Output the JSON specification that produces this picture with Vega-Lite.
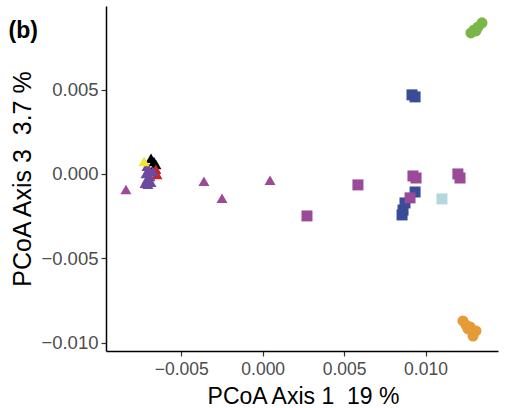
{
  "$schema": "https://vega.github.io/schema/vega-lite/v6.json",
  "width": 392,
  "height": 345,
  "autosize": {"type": "none"},
  "padding": {"left": 106, "top": 6, "right": 17, "bottom": 57},
  "background": "white",
  "config": {
    "view": {"stroke": null},
    "axis": {"grid": false, "domainColor": "black", "domainWidth": 1.5, "tickColor": "#333333", "tickWidth": 1.2, "tickSize": 5, "labelFont": "Liberation Sans", "labelColor": "#4d4d4d", "titleFont": "Liberation Sans", "titleFontWeight": "normal", "titleColor": "black"}
  },
  "resolve": {"axis": {"x": "independent"}},
  "layer": [
    {
      "data": {"values": [
        {"x": 0.01279, "y": 0.00836, "g": "A"},
        {"x": 0.01298, "y": 0.00854, "g": "A"},
        {"x": 0.01323, "y": 0.00872, "g": "A"},
        {"x": 0.01347, "y": 0.00896, "g": "A"},
        {"x": 0.01310, "y": 0.00848, "g": "A"},
        {"x": 0.01230, "y": -0.00872, "g": "B"},
        {"x": 0.01249, "y": -0.00896, "g": "B"},
        {"x": 0.01274, "y": -0.00907, "g": "B"},
        {"x": 0.01310, "y": -0.00931, "g": "B"},
        {"x": 0.01292, "y": -0.00961, "g": "B"},
        {"x": 0.01261, "y": -0.00919, "g": "B"},
        {"x": 0.00917, "y": 0.00469, "g": "C"},
        {"x": 0.00936, "y": 0.00457, "g": "C"},
        {"x": 0.00936, "y": -0.00107, "g": "C"},
        {"x": 0.00874, "y": -0.00172, "g": "C"},
        {"x": 0.00862, "y": -0.00214, "g": "C"},
        {"x": 0.00856, "y": -0.00243, "g": "C"},
        {"x": 0.00923, "y": -0.00012, "g": "D"},
        {"x": 0.00942, "y": -0.00024, "g": "D"},
        {"x": 0.01199, "y": 0.00000, "g": "D"},
        {"x": 0.01212, "y": -0.00024, "g": "D"},
        {"x": 0.00905, "y": -0.00142, "g": "D"},
        {"x": 0.00585, "y": -0.00065, "g": "D"},
        {"x": 0.00272, "y": -0.00249, "g": "D"},
        {"x": 0.01101, "y": -0.00148, "g": "E"},
        {"x": -0.00840, "y": -0.00101, "g": "F"},
        {"x": -0.00361, "y": -0.00053, "g": "F"},
        {"x": -0.00250, "y": -0.00154, "g": "F"},
        {"x": 0.00045, "y": -0.00047, "g": "F"},
        {"x": -0.00686, "y": 0.00083, "g": "I"},
        {"x": -0.00668, "y": 0.00065, "g": "I"},
        {"x": -0.00656, "y": 0.00047, "g": "I"},
        {"x": -0.00656, "y": 0.00018, "g": "J"},
        {"x": -0.00649, "y": -0.00012, "g": "J"},
        {"x": -0.00711, "y": 0.00036, "g": "G"},
        {"x": -0.00698, "y": 0.00012, "g": "G"},
        {"x": -0.00717, "y": -0.00006, "g": "G"},
        {"x": -0.00692, "y": -0.00024, "g": "G"},
        {"x": -0.00711, "y": -0.00042, "g": "G"},
        {"x": -0.00686, "y": -0.00059, "g": "G"},
        {"x": -0.00723, "y": -0.00065, "g": "G"},
        {"x": -0.00674, "y": 0.00006, "g": "G"},
        {"x": -0.00705, "y": -0.00071, "g": "G"},
        {"x": -0.00729, "y": 0.00065, "g": "H"}
      ]},
      "mark": {"type": "point", "filled": true, "opacity": 1},
      "encoding": {
        "x": {"field": "x", "type": "quantitative", "scale": {"domain": [-0.009625, 0.014453], "nice": false, "zero": false},
          "axis": {"orient": "bottom", "values": [-0.005, 0, 0.005, 0.01], "format": ".3f", "labelFontSize": 17.5, "labelPadding": 4, "title": "PCoA Axis 1\u00a0\u00a019 %", "titleFontSize": 23, "titleX": 197, "titleY": 52, "titleBaseline": "alphabetic", "titleAlign": "center"}},
        "y": {"field": "y", "type": "quantitative", "scale": {"domain": [-0.0105, 0.00996], "nice": false, "zero": false},
          "axis": {"values": [-0.01, -0.005, 0, 0.005], "format": ".3f", "labelFontSize": 18.5, "labelPadding": 3, "title": "PCoA Axis 3\u00a0\u00a03.7 %", "titleFontSize": 25, "titleX": -76, "titleY": 172.5, "titleBaseline": "alphabetic", "titleAlign": "center"}},
        "color": {"field": "g", "type": "nominal", "legend": null,
          "scale": {"domain": ["A", "B", "C", "D", "E", "F", "G", "H", "I", "J"],
            "range": ["#7ab648", "#e59b37", "#3a4c98", "#9a4a98", "#b4d7dd", "#9a4a98", "#6e4a9e", "#f2e52a", "#000000", "#c0272d"]}},
        "shape": {"field": "g", "type": "nominal", "legend": null,
          "scale": {"domain": ["A", "B", "C", "D", "E", "F", "G", "H", "I", "J"],
            "range": ["circle", "circle", "square", "square", "square", "M-1,0.577L1,0.577L0,-1.155Z", "M-1,0.577L1,0.577L0,-1.155Z", "M-1,0.577L1,0.577L0,-1.155Z", "M-1,0.577L1,0.577L0,-1.155Z", "M-1,0.577L1,0.577L0,-1.155Z"]}},
        "size": {"field": "g", "type": "nominal", "legend": null,
          "scale": {"domain": ["A", "B", "C", "D", "E", "F", "G", "H", "I", "J"],
            "range": [121, 121, 105, 105, 105, 169, 169, 169, 169, 169]}}
      }
    },
    {
      "data": {"values": []},
      "mark": {"type": "point", "opacity": 0},
      "encoding": {
        "x": {"field": "x", "type": "quantitative",
          "axis": {"orient": "top", "domain": false, "ticks": false, "labels": false, "title": "(b)", "titleFontSize": 23, "titleFontWeight": "bold", "titleX": -98, "titleY": 31, "titleAlign": "left", "titleBaseline": "alphabetic", "titleAngle": 0}}
      }
    }
  ]
}
